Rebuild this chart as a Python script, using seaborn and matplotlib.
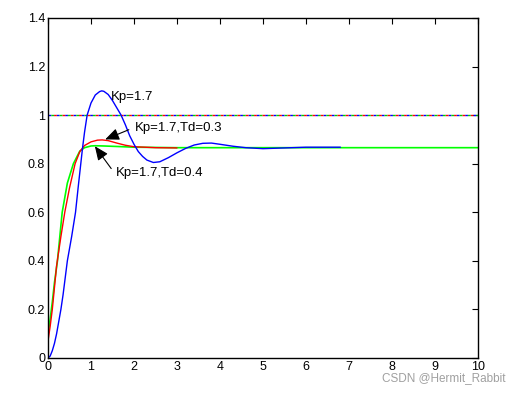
import matplotlib
matplotlib.use("Agg")
import matplotlib.pyplot as plt
import seaborn as sns
import pandas as pd

# Kp=1.7 (blue)
t_kp = [0, 0.05, 0.1, 0.15, 0.2, 0.25, 0.3, 0.35, 0.45, 0.55, 0.64, 0.7, 0.75, 0.8,
        0.85, 0.91, 1.0, 1.1, 1.2, 1.25, 1.3, 1.4, 1.5, 1.6, 1.7, 1.8, 1.9, 2.0,
        2.1, 2.2, 2.3, 2.45, 2.6, 2.8, 3.0, 3.2, 3.4, 3.6, 3.8, 4.0, 4.3, 4.6,
        5.0, 5.5, 6.0, 6.8]
y_kp = [0, 0.008, 0.03, 0.06, 0.1, 0.15, 0.2, 0.26, 0.4, 0.5, 0.6, 0.7, 0.78, 0.86,
        0.93, 1.0, 1.05, 1.083, 1.097, 1.1, 1.098, 1.085, 1.06, 1.03, 1.0, 0.96, 0.915, 0.88,
        0.85, 0.83, 0.815, 0.805, 0.808, 0.825, 0.845, 0.863, 0.877, 0.884, 0.885, 0.88, 0.872, 0.866,
        0.862, 0.865, 0.868, 0.868]
# Kp=1.7, Td=0.3 (red)
t_td3 = [0, 0.0, 0.05, 0.1, 0.15, 0.2, 0.3, 0.39, 0.5, 0.63, 0.74, 0.85, 1.0, 1.15,
         1.26, 1.4, 1.6, 1.8, 2.0, 2.5, 3.0]
y_td3 = [0, 0.07, 0.13, 0.2, 0.29, 0.38, 0.5, 0.6, 0.7, 0.8, 0.85, 0.875, 0.89, 0.897,
         0.898, 0.895, 0.885, 0.876, 0.87, 0.866, 0.865]
# Kp=1.7, Td=0.4 (green)
t_td4 = [0, 0.0, 0.05, 0.1, 0.15, 0.22, 0.33, 0.45, 0.59, 0.74, 0.85, 1.0, 1.1, 1.3,
         1.6, 2.0, 3.0, 10.0]
y_td4 = [0, 0.1, 0.16, 0.23, 0.31, 0.4, 0.6, 0.72, 0.8, 0.852, 0.866, 0.873, 0.874, 0.873,
         0.871, 0.868, 0.866, 0.866]
# setpoint
t_ref = [0, 10]
y_ref = [1, 1]

x_ticks = list(range(0, 11))
y_ticks = [0, 0.2, 0.4, 0.6, 0.8, 1, 1.2, 1.4]
y_tick_labels = ["0", "0.2", "0.4", "0.6", "0.8", "1", "1.2", "1.4"]

sns.set_style("white")
plt.rcParams["font.family"] = ["Liberation Sans", "DejaVu Sans"]
plt.rcParams["xtick.direction"] = "in"
plt.rcParams["ytick.direction"] = "in"
plt.rcParams["text.color"] = "black"
plt.rcParams["xtick.color"] = "black"
plt.rcParams["ytick.color"] = "black"
plt.rcParams["xtick.labelcolor"] = "black"
plt.rcParams["ytick.labelcolor"] = "black"

fig = plt.figure(figsize=(5.23, 3.95), dpi=100)
ax = fig.add_axes([48 / 523, 37 / 395, 430 / 523, 340 / 395])

# reference line drawn by all three as overlapping dashes
for c, off in [("#0000ff", 0), ("#ff0000", 2), ("#00cc00", 4)]:
    df = pd.DataFrame({"t": t_ref, "y": y_ref})
    sns.lineplot(data=df, x="t", y="y", ax=ax, color=c, lw=1.0,
                 estimator=None, sort=False)
    ax.lines[-1].set_linestyle((off, (2, 4)))

sns.lineplot(data=pd.DataFrame({"t": t_td4, "y": y_td4}), x="t", y="y", ax=ax,
             color="#00ff00", lw=1.2, estimator=None, sort=False)
sns.lineplot(data=pd.DataFrame({"t": t_td3, "y": y_td3}), x="t", y="y", ax=ax,
             color="#ff0000", lw=1.0, estimator=None, sort=False)
sns.lineplot(data=pd.DataFrame({"t": t_kp, "y": y_kp}), x="t", y="y", ax=ax,
             color="#0000ff", lw=1.0, estimator=None, sort=False)

ax.set_xlim(0, 10)
ax.set_ylim(0, 1.4)
ax.set_xticks(x_ticks)
ax.set_yticks(y_ticks)
ax.set_yticklabels(y_tick_labels)
ax.set_xlabel("")
ax.set_ylabel("")
ax.tick_params(axis="both", labelsize=9, length=4, width=0.8, color="black",
               labelcolor="black", top=True, right=True, pad=2)
for s in ax.spines.values():
    s.set_visible(True)
    s.set_color("black")
    s.set_linewidth(1.0)

arrow = dict(arrowstyle="-|>,head_length=0.7,head_width=0.3", color="black",
             lw=0.8, mutation_scale=12, shrinkA=0, shrinkB=0)
ax.text(1.47, 1.075, "Kp=1.7", fontsize=9.5, va="center", ha="left", color="black")
ax.text(2.02, 0.945, "Kp=1.7,Td=0.3", fontsize=9.5, va="center", ha="left", color="black")
ax.annotate("", xy=(1.33, 0.9), xytext=(1.88, 0.94), arrowprops=arrow)
ax.text(1.58, 0.76, "Kp=1.7,Td=0.4", fontsize=9.5, va="center", ha="left", color="black")
ax.annotate("", xy=(1.09, 0.872), xytext=(1.47, 0.78), arrowprops=arrow)

fig.text(506 / 523, 1 - 378 / 395, "CSDN @Hermit_Rabbit", fontsize=8.5,
         color="#a0a0a0", ha="right", va="center")

fig.savefig("out.png", dpi=100, facecolor="white")
